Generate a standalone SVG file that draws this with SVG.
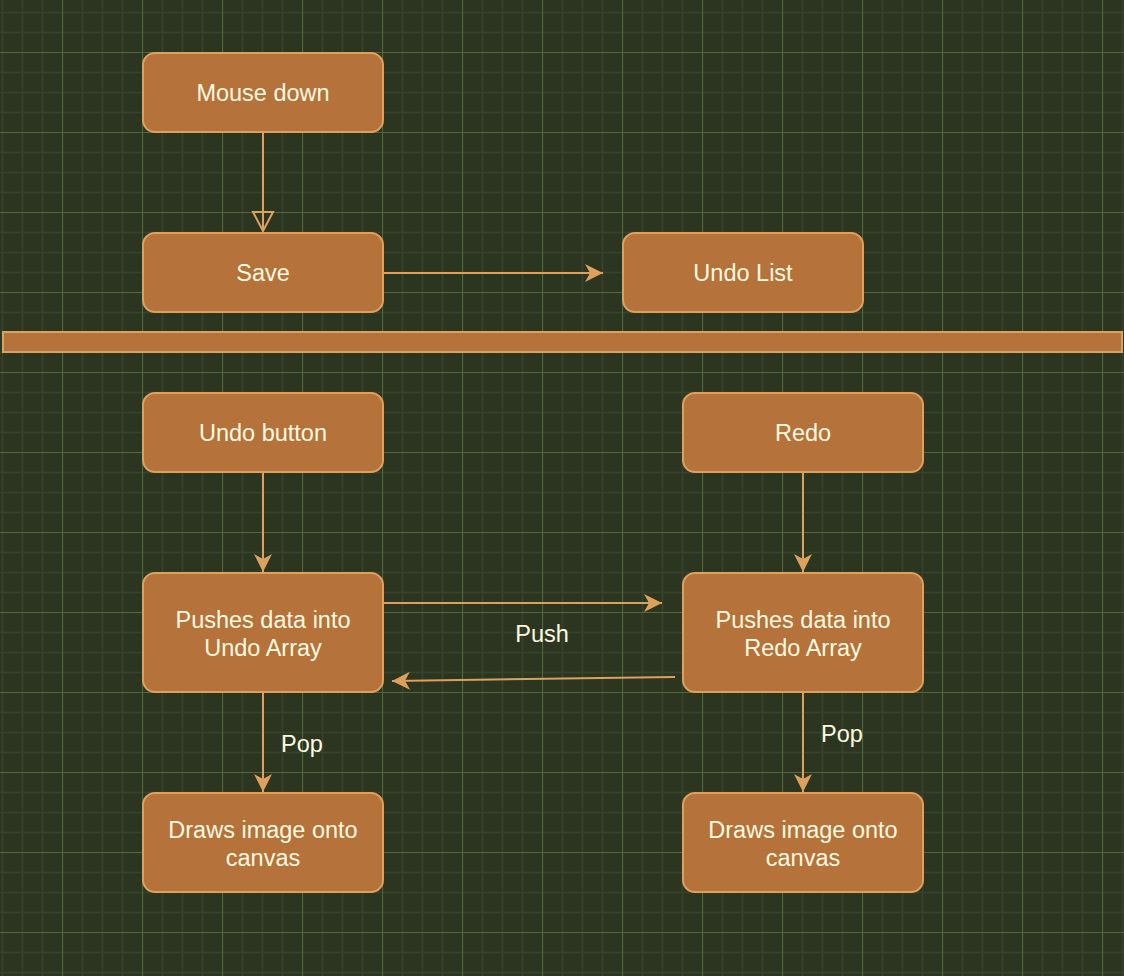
<svg xmlns="http://www.w3.org/2000/svg" width="1124" height="976" viewBox="0 0 1124 976">
  <defs>
    <pattern id="grid" x="62" y="52" width="80" height="80" patternUnits="userSpaceOnUse">
      <path d="M20.5 0V80M40.5 0V80M60.5 0V80M0 20.5H80M0 40.5H80M0 60.5H80" stroke="#37422a" stroke-width="1.5" fill="none"/>
      <path d="M0.5 0V80M0 0.5H80" stroke="#51693a" stroke-width="1.2" fill="none"/>
    </pattern>
    <marker id="arr" markerUnits="userSpaceOnUse" markerWidth="20" markerHeight="20" viewBox="0 0 20 20" refX="18" refY="10" orient="auto">
      <path d="M18 10L0 1L5 10L0 19Z" fill="#dda15e"/>
    </marker>
    <marker id="tri" markerUnits="userSpaceOnUse" markerWidth="24" markerHeight="24" viewBox="0 0 24 24" refX="20" refY="12" orient="auto">
      <path d="M20 12L1 2L1 22Z" fill="none" stroke="#dda15e" stroke-width="2"/>
    </marker>
    <style>
      .box{fill:#b5723a;stroke:#dda15e;stroke-width:2}
      .t{font-family:"Liberation Sans",Arial,Helvetica,sans-serif;font-size:23.5px;fill:#fefae0;text-anchor:middle}
      .c{stroke:#dda15e;stroke-width:2;fill:none}
    </style>
  </defs>
  <rect width="1124" height="976" fill="#2c3520"/>
  <rect width="1124" height="976" fill="url(#grid)"/>

  <g id="mouse-down"><rect class="box" x="143" y="53" width="240" height="79" rx="12"/><text class="t" x="263" y="101">Mouse down</text></g>
  <g id="save"><rect class="box" x="143" y="233" width="240" height="79" rx="12"/><text class="t" x="263" y="281">Save</text></g>
  <g id="undo-list"><rect class="box" x="623" y="233" width="240" height="79" rx="12"/><text class="t" x="743" y="281">Undo List</text></g>
  <g id="separator"><rect class="box" x="3" y="332" width="1119" height="20"/></g>
  <g id="undo-button"><rect class="box" x="143" y="393" width="240" height="79" rx="12"/><text class="t" x="263" y="441">Undo button</text></g>
  <g id="redo"><rect class="box" x="683" y="393" width="240" height="79" rx="12"/><text class="t" x="803" y="441">Redo</text></g>
  <g id="push-undo"><rect class="box" x="143" y="573" width="240" height="119" rx="12"/><text class="t" x="263" y="628">Pushes data into</text><text class="t" x="263" y="656">Undo Array</text></g>
  <g id="push-redo"><rect class="box" x="683" y="573" width="240" height="119" rx="12"/><text class="t" x="803" y="628">Pushes data into</text><text class="t" x="803" y="656">Redo Array</text></g>
  <g id="draw-undo"><rect class="box" x="143" y="793" width="240" height="99" rx="12"/><text class="t" x="263" y="838">Draws image onto</text><text class="t" x="263" y="866">canvas</text></g>
  <g id="draw-redo"><rect class="box" x="683" y="793" width="240" height="99" rx="12"/><text class="t" x="803" y="838">Draws image onto</text><text class="t" x="803" y="866">canvas</text></g>

  <g id="connectors">
    <path class="c" d="M263 133V231" marker-end="url(#tri)"/>
    <path class="c" d="M384 273H603" marker-end="url(#arr)"/>
    <path class="c" d="M263 473V572" marker-end="url(#arr)"/>
    <path class="c" d="M803 473V572" marker-end="url(#arr)"/>
    <path class="c" d="M384 603H662" marker-end="url(#arr)"/>
    <path class="c" d="M675 677L392 681" marker-end="url(#arr)"/>
    <path class="c" d="M263 693V792" marker-end="url(#arr)"/>
    <path class="c" d="M803 693V792" marker-end="url(#arr)"/>
    <text class="t" x="542" y="642">Push</text>
    <text class="t" x="302" y="752">Pop</text>
    <text class="t" x="842" y="742">Pop</text>
  </g>
</svg>
